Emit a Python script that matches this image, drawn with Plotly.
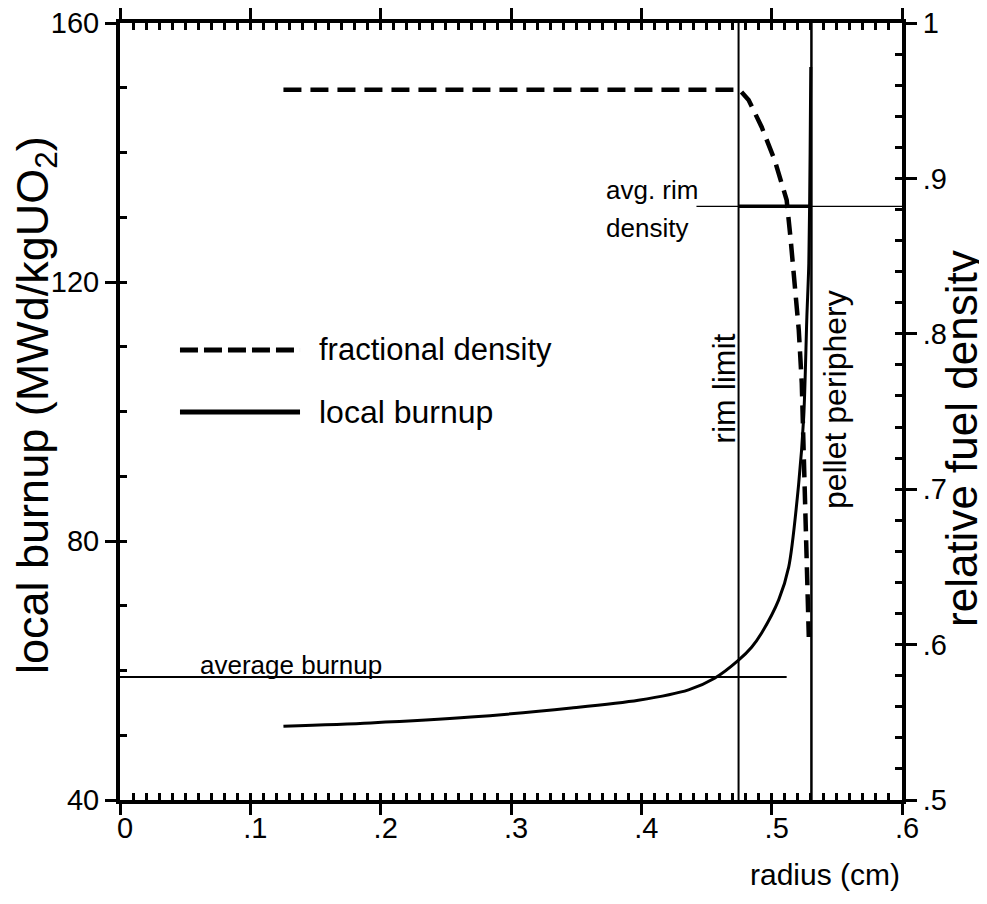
import plotly.graph_objects as go

# ---------------- data ----------------
radius_burnup = [0.1254, 0.1923, 0.2692, 0.3462, 0.3977, 0.4362, 0.4562, 0.4746,
                 0.4846, 0.4923, 0.5054, 0.5131, 0.5208, 0.5246, 0.5270, 0.5285,
                 0.5295, 0.5300]
local_burnup = [51.4, 51.9, 52.8, 54.2, 55.4, 57.0, 58.8, 61.6,
                63.6, 65.8, 70.9, 76.0, 89.0, 99.2, 114.6, 122.9,
                140.0, 153.2]

radius_density = [0.1254, 0.4754, 0.4823, 0.4923, 0.5023, 0.5115, 0.5146,
                  0.5177, 0.5208, 0.5231, 0.5254, 0.5277, 0.5285]
fractional_density = [0.957, 0.957, 0.9505, 0.9331, 0.9118, 0.8861, 0.8604,
                      0.8327, 0.8024, 0.7683, 0.7040, 0.6396, 0.6049]

rim_limit_radius = 0.4746
pellet_periphery_radius = 0.5305
average_burnup = 59.0
average_burnup_radii = [0.0, 0.5115]
avg_rim_density = 0.882
avg_rim_label_radii = [0.4423, 0.6]

x_range = [0, 0.6]
y_range = [40, 160]
y2_range = [0.5, 1.0]
x_tick_vals = [0, 0.1, 0.2, 0.3, 0.4, 0.5, 0.6]
x_tick_text = ["0", ".1", ".2", ".3", ".4", ".5", ".6"]
y_tick_vals = [40, 80, 120, 160]
y_tick_text = ["40", "80", "120", "160"]
y2_tick_vals = [0.5, 0.6, 0.7, 0.8, 0.9, 1.0]
y2_tick_text = [".5", ".6", ".7", ".8", ".9", "1"]

# ---------------- styling ----------------
FONT = "Liberation Sans, Arial, sans-serif"
BLACK = "black"

fig = go.Figure()

fig.add_trace(go.Scatter(x=radius_density, y=fractional_density, yaxis="y2",
                         mode="lines", name="fractional density",
                         line=dict(color=BLACK, width=4.5, dash="18px,9px")))
fig.add_trace(go.Scatter(x=radius_burnup, y=local_burnup, mode="lines",
                         name="local burnup", line_shape="spline",
                         line=dict(color=BLACK, width=3, smoothing=0.8)))
fig.add_trace(go.Scatter(x=[rim_limit_radius, rim_limit_radius], y=y_range,
                         mode="lines", line=dict(color=BLACK, width=2)))
fig.add_trace(go.Scatter(x=[pellet_periphery_radius, pellet_periphery_radius], y=y_range,
                         mode="lines", line=dict(color=BLACK, width=2.5)))
fig.add_trace(go.Scatter(x=average_burnup_radii, y=[average_burnup, average_burnup],
                         mode="lines", line=dict(color=BLACK, width=2)))
fig.add_trace(go.Scatter(x=avg_rim_label_radii, y=[avg_rim_density, avg_rim_density],
                         yaxis="y2", mode="lines", line=dict(color=BLACK, width=1.2)))
fig.add_trace(go.Scatter(x=[rim_limit_radius, pellet_periphery_radius],
                         y=[avg_rim_density, avg_rim_density],
                         yaxis="y2", mode="lines", line=dict(color=BLACK, width=3.5)))

# empty traces to instantiate the inner-tick overlay axes
fig.add_trace(go.Scatter(x=[], y=[], xaxis="x3", yaxis="y", hoverinfo="skip"))
fig.add_trace(go.Scatter(x=[], y=[], xaxis="x", yaxis="y3", hoverinfo="skip"))
fig.add_trace(go.Scatter(x=[], y=[], xaxis="x", yaxis="y4", hoverinfo="skip"))

tick_font = dict(family=FONT, size=29, color=BLACK)
common_off = dict(showgrid=False, zeroline=False, automargin=False)

fig.update_layout(
    width=979, height=896,
    margin=dict(l=112, r=85, t=15, b=104, pad=0),
    template="none",
    paper_bgcolor="white", plot_bgcolor="white",
    showlegend=False,
    xaxis=dict(range=x_range, showline=True, linewidth=4, linecolor=BLACK,
               mirror="allticks", ticks="outside", ticklen=11, tickwidth=3,
               tickcolor=BLACK, tickmode="array", tickvals=x_tick_vals,
               ticktext=x_tick_text, tickfont=tick_font, ticklabelshift=5,
               ticklabelstandoff=-12, ticklabeloverflow="allow", **common_off),
    xaxis3=dict(range=x_range, overlaying="x", anchor="y", side="bottom",
                showline=False, mirror="allticks", ticks="inside", ticklen=7,
                tickwidth=3, tickcolor=BLACK, tickmode="linear", tick0=0,
                dtick=0.01, showticklabels=False, **common_off),
    yaxis=dict(range=y_range, showline=True, linewidth=4, linecolor=BLACK,
               ticks="outside", ticklen=11, tickwidth=3, tickcolor=BLACK,
               tickmode="array", tickvals=y_tick_vals, ticktext=y_tick_text,
               tickfont=tick_font, ticklabeloverflow="allow", **common_off),
    yaxis3=dict(range=y_range, overlaying="y", anchor="x", side="left",
                showline=False, ticks="inside", ticklen=7, tickwidth=3,
                tickcolor=BLACK, tickmode="linear", tick0=40, dtick=10,
                showticklabels=False, **common_off),
    yaxis2=dict(range=y2_range, overlaying="y", anchor="x", side="right",
                showline=True, linewidth=4, linecolor=BLACK,
                ticks="outside", ticklen=11, tickwidth=3, tickcolor=BLACK,
                tickmode="array", tickvals=y2_tick_vals, ticktext=y2_tick_text,
                tickfont=tick_font, ticklabeloverflow="allow", **common_off),
    yaxis4=dict(range=y2_range, overlaying="y", anchor="x", side="right",
                showline=False, ticks="inside", ticklen=7, tickwidth=3,
                tickcolor=BLACK, tickmode="linear", tick0=0.5, dtick=0.02,
                showticklabels=False, **common_off),
)

# legend drawn manually (long sample lines as in the reference)
fig.add_shape(type="line", xref="paper", yref="paper", x0=0.0767, x1=0.2302,
              y0=0.5792, y1=0.5792, line=dict(color=BLACK, width=5, dash="18px,6px"))
fig.add_shape(type="line", xref="paper", yref="paper", x0=0.0767, x1=0.2302,
              y0=0.4994, y1=0.4994, line=dict(color=BLACK, width=5))

annotations = [
    dict(text="fractional density", xref="paper", yref="paper", x=0.2519, y=0.5792,
         xanchor="left", yanchor="middle", font=dict(size=31)),
    dict(text="local burnup", xref="paper", yref="paper", x=0.2519, y=0.4994,
         xanchor="left", yanchor="middle", font=dict(size=32)),
    dict(text="average burnup", xref="x", yref="y", x=0.06, y=average_burnup,
         xanchor="left", yanchor="bottom", yshift=-5, font=dict(size=26)),
    dict(text="avg. rim", xref="x", yref="y2", x=0.3715, y=0.8925,
         xanchor="left", yanchor="middle", font=dict(size=26)),
    dict(text="density", xref="x", yref="y2", x=0.3715, y=0.8680,
         xanchor="left", yanchor="middle", font=dict(size=26)),
    dict(text="rim limit", xref="x", yref="y", x=0.4638, y=103.6, textangle=-90,
         xanchor="center", yanchor="middle", font=dict(size=32)),
    dict(text="pellet periphery", xref="x", yref="y", x=0.5485, y=101.9, textangle=-90,
         xanchor="center", yanchor="middle", font=dict(size=32)),
    dict(text="local burnup (MWd/kgUO<sub>2</sub>)", xref="paper", yref="paper",
         x=-0.1074, y=0.5084, textangle=-90, xanchor="center", yanchor="middle",
         font=dict(size=45)),
    dict(text="relative fuel density", xref="paper", yref="paper",
         x=1.0767, y=0.4659, textangle=-90, xanchor="center", yanchor="middle",
         font=dict(size=44)),
    dict(text="radius (cm)", xref="paper", yref="paper", x=1.0, y=-0.0965,
         xanchor="right", yanchor="middle", font=dict(size=30)),
]
for a in annotations:
    a.setdefault("showarrow", False)
    a["font"].setdefault("color", BLACK)
    a["font"].setdefault("family", FONT)
    fig.add_annotation(**a)

fig.write_html("out.html")
